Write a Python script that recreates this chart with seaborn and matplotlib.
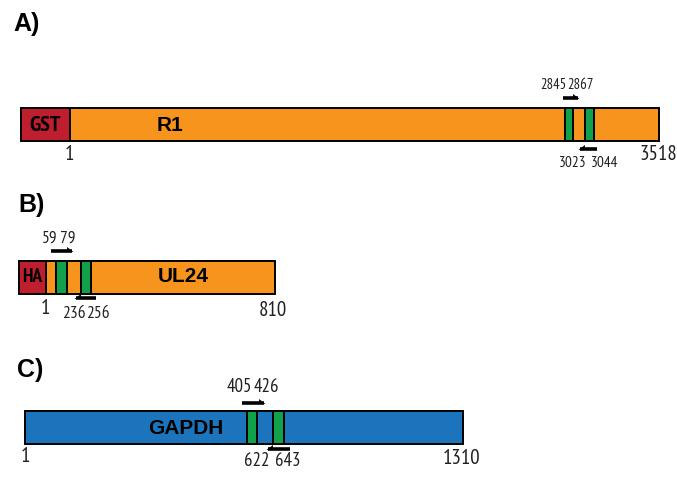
import matplotlib
matplotlib.use("Agg")
import matplotlib.pyplot as plt
import seaborn as sns

# Constructs: panel, gene name, N-terminal tag, protein length
panels = ["A)", "B)", "C)"]
genes = ["R1", "UL24", "GAPDH"]
tags = ["GST", "HA", None]
lengths = [3518, 810, 1310]
# Primer positions (forward start/end, reverse start/end)
fwd_primers = [(2845, 2867), (59, 79), (405, 426)]
rev_primers = [(3023, 3044), (236, 256), (622, 643)]

# Layout of the schematic (figure pixel coordinates)
bar_y = [124.5, 277.5, 427.0]
bar_h = 33
bar_x0 = [21, 19, 25]
tag_x1 = [70, 46, None]
bar_x1 = [659, 275, 463]
boxes = [[(565, 573), (585, 594)], [(56, 67), (81, 91)], [(247, 257), (273, 284)]]
fwd_arrow = [(563, 578, 98), (51, 72, 251), (242, 264, 403)]
rev_arrow = [(580, 597, 149), (76, 96, 298), (268, 290, 449)]
fwd_lab = [((553, 580), 85, 10.5), ((50, 68), 239, 12.5), ((239, 266), 387, 13.5)]
rev_lab = [((573, 605), 163, 11), ((74, 98), 314, 12.5), ((257, 288), 461, 13.5)]
one_lab = [(69, 155, 15), (45, 309, 15), (25, 456, 15)]
end_lab = [(658, 155, 15), (273, 310, 15), (462, 458, 15)]
gene_pos = [(170, 125), (183, 277), (186, 428)]
tag_pos = [(45, 125, 16), (32, 277, 14), None]
panel_pos = [(13, 24), (18, 205), (17, 370)]

ORANGE = "#f7941d"
RED = "#be1e2d"
GREEN = "#10a14a"
BLUE = "#1c75bc"
INK = "#231f20"

sns.set_theme(style="white")
plt.rcParams["font.family"] = ["Liberation Sans", "DejaVu Sans"]
NARROW = ["PT Sans Narrow", "DejaVu Sans"]

fig = plt.figure(figsize=(6.77, 4.78), dpi=100)
ax = fig.add_axes([0, 0, 1, 1])
ax.set_xlim(0, 677)
ax.set_ylim(478, 0)
ax.axis("off")

lw = 1.4


def harpoon(x0, x1, y, right=True):
    ax.plot([x0, x1], [y, y], color="black", lw=2.6, solid_capstyle="butt", zorder=4)
    if right:
        ax.fill([x1 - 5, x1 + 1.5, x1 - 5], [y + 1, y + 1, y - 4], color="black", lw=0, zorder=4)
    else:
        ax.fill([x0 + 5, x0 - 1.5, x0 + 5], [y + 1, y + 1, y - 4], color="black", lw=0, zorder=4)


for i in range(3):
    y = bar_y[i]
    body_color = BLUE if tags[i] is None else ORANGE
    start = bar_x0[i] if tag_x1[i] is None else tag_x1[i]
    ax.barh(y, bar_x1[i] - start, left=start, height=bar_h, color=body_color,
            edgecolor="black", linewidth=lw, zorder=2)
    if tags[i] is not None:
        ax.barh(y, tag_x1[i] - bar_x0[i], left=bar_x0[i], height=bar_h, color=RED,
                edgecolor="black", linewidth=lw, zorder=2)
        tx, ty, ts = tag_pos[i]
        ax.text(tx, ty, tags[i], ha="center", va="center", fontsize=ts,
                fontweight="bold", family=NARROW, color="black", zorder=5)
    for bx0, bx1 in boxes[i]:
        ax.barh(y, bx1 - bx0, left=bx0, height=bar_h, color=GREEN,
                edgecolor="black", linewidth=lw, zorder=3)

    gx, gy = gene_pos[i]
    ax.text(gx, gy, genes[i], ha="center", va="center", fontsize=15,
            fontweight="bold", color="black", zorder=5)

    fx0, fx1, fy = fwd_arrow[i]
    harpoon(fx0, fx1, fy, right=True)
    rx0, rx1, ry = rev_arrow[i]
    harpoon(rx0, rx1, ry, right=False)

    (c0, c1), ly, ls = fwd_lab[i]
    for cx, val in zip((c0, c1), fwd_primers[i]):
        ax.text(cx, ly, str(val), ha="center", va="center", fontsize=ls,
                family=NARROW, color=INK)
    (c0, c1), ly, ls = rev_lab[i]
    for cx, val in zip((c0, c1), rev_primers[i]):
        ax.text(cx, ly, str(val), ha="center", va="center", fontsize=ls,
                family=NARROW, color=INK)

    ox, oy, os_ = one_lab[i]
    ax.text(ox, oy, "1", ha="center", va="center", fontsize=os_, family=NARROW, color=INK)
    ex, ey, es = end_lab[i]
    ax.text(ex, ey, str(lengths[i]), ha="center", va="center", fontsize=es,
            family=NARROW, color=INK)

    px, py = panel_pos[i]
    ax.text(px, py, panels[i], ha="left", va="center", fontsize=18,
            fontweight="bold", color="black")

fig.savefig("out.png", dpi=100)
